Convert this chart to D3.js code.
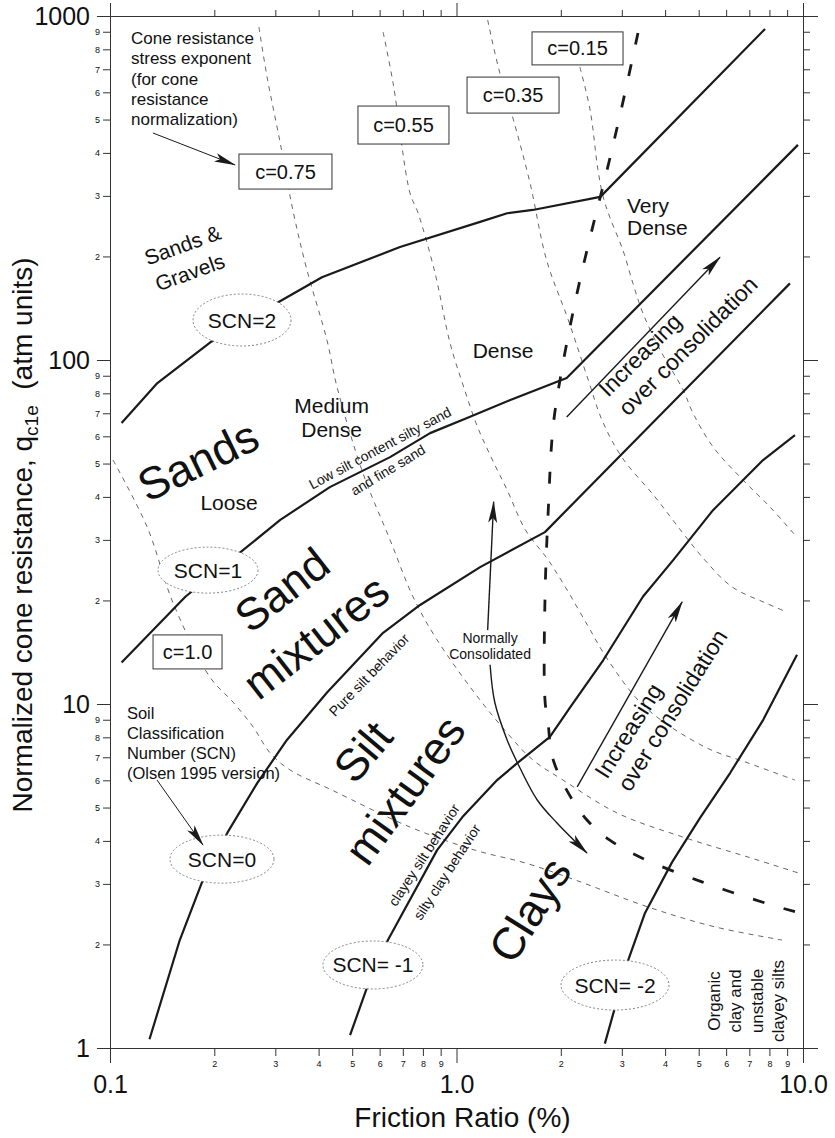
<!DOCTYPE html>
<html>
<head>
<meta charset="utf-8">
<script src="https://cdn.jsdelivr.net/npm/d3@7/dist/d3.min.js"></script>
<style>
  html, body { margin: 0; padding: 0; background: #fff; }
  svg { display: block; }
  text { font-family: "Liberation Sans", Arial, Helvetica, sans-serif; fill: #111; }
</style>
</head>
<body>
<svg id="chart" width="835" height="1138"></svg>
<script>
// ---- Axis domains and tick labels ----
const xDomain = [0.1, 10];
const yDomain = [1, 1000];
const xMajor = [0.1, 1, 10];
const xMajorText = ["0.1", "1.0", "10.0"];
const yMajor = [1, 10, 100, 1000];
const yMajorText = ["1", "10", "100", "1000"];
const minorDigits = [2, 3, 4, 5, 6, 7, 8, 9];

// ---- Soil classification number (SCN) boundaries: [friction ratio %, qc1e] ----
const scnBoundary2 = [[0.108,65.6],[0.137,85.7],[0.196,113],[0.305,147],[0.409,174],[0.687,213],[1.17,252],[1.40,267],[1.66,273],[2.60,298],[7.77,917]];
const scnBoundary1 = [[0.108,13.2],[0.165,20.5],[0.242,28.0],[0.310,34.3],[0.431,42.7],[0.643,52.2],[0.839,61.3],[1.09,68.3],[1.43,76.5],[2.08,88.7],[9.67,422]];
const scnBoundary0 = [[0.130,1.06],[0.159,2.06],[0.184,3.02],[0.218,4.22],[0.266,5.89],[0.324,7.86],[0.423,10.8],[0.614,16.1],[0.785,19.4],[1.17,25.0],[1.80,31.6],[9.17,167]];
const scnBoundaryM1 = [[0.493,1.09],[0.552,1.50],[0.634,2.06],[0.879,3.76],[1.04,4.69],[1.31,6.01],[1.50,6.74],[1.86,8.02],[2.13,9.80],[2.65,13.4],[3.45,20.5],[4.22,26.2],[5.50,36.6],[7.67,51.2],[9.48,60.5]];
const scnBoundaryM2 = [[2.68,1.03],[3.13,1.80],[3.50,2.47],[4.19,3.47],[5.04,4.66],[6.16,6.30],[7.67,8.98],[9.61,13.9]];

// ---- Normally consolidated limit ----
const normallyConsolidated = [[3.34,892],[3.00,544],[2.72,357],[2.46,239],[2.23,157],[2.02,95.4],[1.90,63.9],[1.84,36.6],[1.80,20.1],[1.80,10.3],[1.84,8.69],[1.89,7.02],[2.08,5.62],[2.38,4.60],[2.77,4.02],[3.38,3.59],[5.11,3.04],[7.77,2.64],[9.48,2.49]];

// ---- Cone resistance stress exponent contours ----
const cLine100 = [[0.102,51.2],[0.128,32.7],[0.152,19.7],[0.194,12.0],[0.227,10.1],[0.259,8.57],[0.290,7.20],[0.331,6.43],[0.437,5.62],[0.734,4.39],[1.13,3.76],[1.58,3.45],[2.20,3.08],[3.57,2.57],[5.57,2.25],[8.70,2.06]];
const cLine075 = [[0.269,929],[0.284,665],[0.310,427],[0.337,273],[0.370,183],[0.423,114],[0.452,83.5],[0.537,46.9],[0.643,30.0],[0.749,20.5],[0.867,15.7],[1.11,11.0],[1.40,8.24],[1.66,6.88],[2.03,6.01],[2.91,4.82],[4.48,4.11],[6.94,3.59],[9.67,3.23]];
const cLine055 = [[0.614,898],[0.656,639],[0.734,306],[0.774,268],[0.867,179],[0.958,112],[1.04,85.7],[1.15,63.9],[1.27,51.2],[1.40,41.9],[1.58,32.1],[1.84,26.2],[2.06,21.9],[2.40,16.8],[2.74,13.4],[3.50,9.80],[5.21,7.50],[6.94,6.74],[9.48,6.01]];
const cLine035 = [[1.23,974],[1.32,711],[1.46,499],[1.63,327],[1.82,195],[2.10,131],[2.40,87.5],[2.63,66.9],[3.00,52.2],[3.74,40.0],[4.48,31.6],[5.21,26.2],[6.24,21.9],[7.77,19.7],[8.99,18.5]];
const cLine015 = [[2.27,711],[2.43,533],[2.56,357],[2.65,298],[2.77,260],[3.02,209],[3.23,167],[3.45,137],[3.87,107],[4.51,81.8],[4.81,70.2],[5.50,55.9],[6.71,44.8],[8.03,37.4],[9.48,31.0]];
const cLabels = ["c=1.0", "c=0.75", "c=0.55", "c=0.35", "c=0.15"];

// ---- Trend arrows ----
const ocArrowUpper = [[2.08,68.3],[5.76,199]];
const ocArrowLower = [[2.23,5.74],[4.48,19.8]];
const ncArrowUp = [[1.23,16.4],[1.28,38.7]];
const ncArrowDown = [[1.25,13.0],[1.29,10.1],[1.40,7.86],[1.50,6.74],[1.71,5.26],[1.95,4.51],[2.38,3.69]];

const scnLabels = ["SCN=2", "SCN=1", "SCN=0", "SCN= -1", "SCN= -2"];

// ---- Scales ----
const svg = d3.select("#chart");
const x = d3.scaleLog().domain(xDomain).range([110, 803]);
const y = d3.scaleLog().domain(yDomain).range([1048, 16]);
const xMinor = d3.merge([0.1, 1].map(d => minorDigits.map(k => d * k)));
const yMinor = d3.merge([1, 10, 100].map(d => minorDigits.map(k => d * k)));
const leadDigit = d => Math.round(d / Math.pow(10, Math.floor(Math.log10(d) + 1e-9)));

// ---- Arrowhead ----
const defs = svg.append("defs");
defs.append("marker").attr("id", "head")
  .attr("viewBox", "0 0 22 10").attr("refX", 21).attr("refY", 5)
  .attr("markerWidth", 22).attr("markerHeight", 10)
  .attr("markerUnits", "userSpaceOnUse").attr("orient", "auto")
  .append("path").attr("d", "M0,0.5 L22,5 L0,9.5 L5,5 Z").attr("fill", "#1a1a1a");

// ---- Axes ----
function styleAxis(g, size) {
  g.attr("font-size", null).attr("font-family", null).attr("color", "#333");
  g.selectAll("text").style("font-size", size + "px");
  g.selectAll("line, path").attr("stroke-width", 1);
}
const bottomY = y(yDomain[0]), topY = y(yDomain[1]);
const leftX = x(xDomain[0]), rightX = x(xDomain[1]);

svg.append("g").attr("transform", `translate(0,${bottomY})`)
  .call(d3.axisBottom(x).tickValues(xMinor).tickSize(8).tickSizeOuter(0).tickPadding(5).tickFormat(leadDigit))
  .call(g => styleAxis(g, 9));
svg.append("g").attr("transform", `translate(0,${bottomY})`)
  .call(d3.axisBottom(x).tickValues(xMajor).tickSize(15).tickSizeOuter(0).tickPadding(12).tickFormat((d, i) => xMajorText[i]))
  .call(g => styleAxis(g, 25));
svg.append("g").attr("transform", `translate(0,${topY})`)
  .call(d3.axisTop(x).tickValues(xMinor).tickSize(6).tickSizeOuter(0).tickFormat(""))
  .call(g => styleAxis(g, 9));
svg.append("g").attr("transform", `translate(0,${topY})`)
  .call(d3.axisTop(x).tickValues(xMajor).tickSize(13).tickSizeOuter(0).tickFormat(""))
  .call(g => styleAxis(g, 9));
svg.append("g").attr("transform", `translate(${leftX},0)`)
  .call(d3.axisLeft(y).tickValues(yMinor).tickSize(7).tickSizeOuter(0).tickPadding(3).tickFormat(leadDigit))
  .call(g => styleAxis(g, 9));
svg.append("g").attr("transform", `translate(${leftX},0)`)
  .call(d3.axisLeft(y).tickValues(yMajor).tickSize(13).tickSizeOuter(0).tickPadding(7).tickFormat((d, i) => yMajorText[i]))
  .call(g => styleAxis(g, 25));
svg.append("g").attr("transform", `translate(${rightX},0)`)
  .call(d3.axisRight(y).tickValues(yMinor).tickSize(7).tickSizeOuter(0).tickFormat(""))
  .call(g => styleAxis(g, 9));
svg.append("g").attr("transform", `translate(${rightX},0)`)
  .call(d3.axisRight(y).tickValues(yMajor).tickSize(15).tickSizeOuter(0).tickFormat(""))
  .call(g => styleAxis(g, 9));

// Axis titles
svg.append("text")
  .attr("x", (leftX + rightX) / 2 + 6).attr("y", 1127)
  .attr("text-anchor", "middle").style("font-size", "28px")
  .text("Friction Ratio (%)");
const yTitle = svg.append("text")
  .attr("transform", `translate(32,${(bottomY + topY) / 2 + 3}) rotate(-90)`)
  .attr("text-anchor", "middle").style("font-size", "28px");
yTitle.append("tspan").text("Normalized cone resistance, q");
yTitle.append("tspan").attr("dy", 6).style("font-size", "19px").text("c1e");
yTitle.append("tspan").attr("dy", -6).text("\u00a0\u00a0(atm units)");

// ---- Curves ----
const line = d3.line().x(d => x(d[0])).y(d => y(d[1]));
const smooth = d3.line().x(d => x(d[0])).y(d => y(d[1])).curve(d3.curveCatmullRom.alpha(0.5));
const plot = svg.append("g");

[cLine100, cLine075, cLine055, cLine035, cLine015].forEach(c => {
  plot.append("path").attr("d", smooth(c))
    .attr("fill", "none").attr("stroke", "#555").attr("stroke-width", 0.9)
    .attr("stroke-dasharray", "5,5");
});

plot.append("path").attr("d", smooth(normallyConsolidated))
  .attr("fill", "none").attr("stroke", "#1a1a1a").attr("stroke-width", 2.8)
  .attr("stroke-dasharray", "12,20");

[scnBoundary2, scnBoundary1, scnBoundary0, scnBoundaryM1, scnBoundaryM2].forEach(b => {
  plot.append("path").attr("d", line(b))
    .attr("fill", "none").attr("stroke", "#1a1a1a").attr("stroke-width", 2.2)
    .attr("stroke-linejoin", "round");
});

// Arrows
[ocArrowUpper, ocArrowLower, ncArrowUp].forEach(a => {
  plot.append("path").attr("d", line(a)).attr("fill", "none")
    .attr("stroke", "#1a1a1a").attr("stroke-width", 1.4).attr("marker-end", "url(#head)");
});
plot.append("path").attr("d", smooth(ncArrowDown)).attr("fill", "none")
  .attr("stroke", "#1a1a1a").attr("stroke-width", 1.4).attr("marker-end", "url(#head)");

// ---- Annotation layout (anchors in chart units) ----
const ann = svg.append("g");
function label(t, xv, yv, size, rot = 0, anchor = "middle") {
  return ann.append("text")
    .attr("transform", `translate(${x(xv)},${y(yv)}) rotate(${rot})`)
    .attr("text-anchor", anchor).attr("dominant-baseline", "central")
    .style("font-size", size + "px").text(t);
}
function block(lines, xv, yv, size, step, rot = 0, anchor = "start") {
  const t = ann.append("text")
    .attr("transform", `translate(${x(xv)},${y(yv)}) rotate(${rot})`)
    .attr("text-anchor", anchor).attr("dominant-baseline", "central")
    .style("font-size", size + "px");
  lines.forEach((s, i) => t.append("tspan").attr("x", 0).attr("y", i * step).text(s));
}
function pointer(p) {
  ann.append("path").attr("d", line(p)).attr("fill", "none")
    .attr("stroke", "#1a1a1a").attr("stroke-width", 1).attr("marker-end", "url(#head)");
}

// Exponent boxes
const cBoxAt = [[0.1674,14.17],[0.3209,353],[0.703,482],[1.456,589],[2.235,805]];
const cBoxW = [69, 93, 91, 92, 91];
const cBoxH = [34, 35, 38, 36, 33];
cLabels.forEach((t, i) => {
  const [bx, by] = cBoxAt[i];
  ann.append("rect")
    .attr("x", x(bx) - cBoxW[i] / 2).attr("y", y(by) - cBoxH[i] / 2)
    .attr("width", cBoxW[i]).attr("height", cBoxH[i])
    .attr("fill", "#fff").attr("stroke", "#333").attr("stroke-width", 1);
  label(t, bx, by, 20);
});

// SCN ellipses
const scnAt = [[0.2404,130.7],[0.1918,24.5],[0.2104,3.54],[0.574,1.743],[2.867,1.524]];
const scnRx = [49, 50, 52, 50, 54];
const scnRy = [26, 23, 24, 24, 25];
scnLabels.forEach((t, i) => {
  const [ex, ey] = scnAt[i];
  ann.append("ellipse").attr("cx", x(ex)).attr("cy", y(ey))
    .attr("rx", scnRx[i]).attr("ry", scnRy[i])
    .attr("fill", "#fff").attr("stroke", "#777").attr("stroke-width", 0.9)
    .attr("stroke-dasharray", "2,2");
  label(t, ex, ey, 21);
});

// Explanatory notes
block(["Cone resistance", "stress exponent", "(for cone", "resistance", "normalization)"], 0.115, 863, 17, 20.3);
pointer([[0.133,457],[0.2295,369]]);
block(["Soil", "Classification", "Number (SCN)", "(Olsen 1995 version)"], 0.1119, 9.415, 16.5, 20);
pointer([[0.1367,6.01],[0.1855,3.89]]);

// Region names
label("Sands &", 0.162, 216, 21, -20);
label("Gravels", 0.170, 180, 21, -20);
label("Sands", 0.1795, 50.9, 45, -26);
label("Sand", 0.3136, 21.45, 45, -38);
label("mixtures", 0.393, 15.66, 45, -38);
label("Silt", 0.5373, 7.254, 45, -50);
label("mixtures", 0.7102, 5.62, 45, -54);
label("Clays", 1.630, 2.518, 45, -58);

// Density states
label("Loose", 0.2205, 38.4, 21);
label("Medium", 0.436, 73.5, 21);
label("Dense", 0.436, 62.6, 21);
label("Dense", 1.362, 106.9, 21);
label("Very", 3.105, 282.2, 21, 0, "start");
label("Dense", 3.105, 242.0, 21, 0, "start");

// Behaviour notes along boundaries
label("Low silt content silty sand", 0.6015, 55.5, 14, -28);
label("and fine sand", 0.634, 47.9, 14, -31);
label("Pure silt behavior", 0.5592, 12.15, 14, -46);
label("clayey silt behavior", 0.8058, 3.639, 14, -57);
label("silty clay behavior", 0.9389, 3.249, 14, -57);
block(["Organic", "clay and", "unstable", "clayey silts"], 5.535, 1.370, 17, 21.5, -90, "middle");

// Consolidation notes
label("Normally", 1.250, 15.56, 14);
label("Consolidated", 1.250, 13.98, 14);
ann.append("text").attr("transform", `translate(${x(2.736)},${y(77.5)}) rotate(-45)`)
  .style("font-size", "23px").text("Increasing");
ann.append("text").attr("transform", `translate(${x(3.126)},${y(68.3)}) rotate(-45)`)
  .style("font-size", "23px").text("over consolidation");
ann.append("text").attr("transform", `translate(${x(2.719)},${y(6.013)}) rotate(-58)`)
  .style("font-size", "23px").text("Increasing");
ann.append("text").attr("transform", `translate(${x(3.167)},${y(5.511)}) rotate(-58)`)
  .style("font-size", "23px").text("over consolidation");
</script>
</body>
</html>
